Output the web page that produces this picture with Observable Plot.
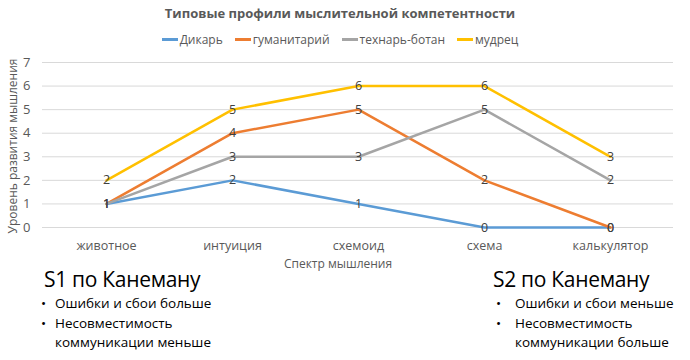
<!DOCTYPE html>
<html>
<head>
<meta charset="utf-8">
<script src="https://cdn.jsdelivr.net/npm/d3@7"></script>
<script src="https://cdn.jsdelivr.net/npm/@observablehq/plot@0.6"></script>
<style>
  body { margin: 0; width: 690px; height: 360px; position: relative; background: #fff; font-family: "Open Sans", sans-serif; overflow: hidden; }
  #title { position: absolute; top: 4px; left: 0; width: 680px; text-align: center; font-weight: bold; font-size: 13px; color: #595959; }
  #legend { position: absolute; top: 31px; left: 0; width: 680px; display: flex; justify-content: center; gap: 12px; font-size: 12px; color: #595959; }
  #legend .item { display: flex; align-items: center; }
  #legend .sw { display: inline-block; width: 16px; height: 2.5px; margin-right: 2px; }
  #chart { position: absolute; top: 50px; left: 0; }
  #xlabel { position: absolute; top: 255px; left: 0; width: 676px; text-align: center; font-size: 12px; color: #595959; }
  #ylabel { position: absolute; left: 12px; top: 146px; transform: translate(-50%, -50%) rotate(-90deg); white-space: nowrap; font-size: 12px; color: #595959; }
  .block { position: absolute; color: #000; }
  .block .head { font-size: 21px; line-height: 26px; white-space: nowrap; letter-spacing: -0.3px; }
  .block ul { margin: 2px 0 0 0; padding: 0; list-style: none; font-size: 13.5px; line-height: 19.5px; }
  .block li { position: relative; padding-left: var(--ind); }
  .block li::before { content: "•"; position: absolute; left: 0; }
  #s1 { left: 44px; top: 266px; --ind: 14px; }
  #s2 { left: 493px; top: 266px; --ind: 19px; }
  #s1 ul { margin-left: -3px; }
  #s2 ul { margin-left: 3px; }
</style>
</head>
<body>
<div id="title">Типовые профили мыслительной компетентности</div>
<div id="legend"></div>
<div id="chart"></div>
<div id="ylabel">Уровень развития мышления</div>
<div id="xlabel">Спектр мышления</div>
<div class="block" id="s1">
  <div class="head">S1 по Канеману</div>
  <ul><li>Ошибки и сбои больше</li><li>Несовместимость<br>коммуникации меньше</li></ul>
</div>
<div class="block" id="s2">
  <div class="head">S2 по Канеману</div>
  <ul><li>Ошибки и сбои меньше</li><li>Несовместимость<br>коммуникации больше</li></ul>
</div>
<script>
const categories = ["животное", "интуиция", "схемоид", "схема", "калькулятор"];
const seriesNames = ["Дикарь", "гуманитарий", "технарь-ботан", "мудрец"];
const dikar = [1, 2, 1, 0, 0];
const gumanitariy = [1, 4, 5, 2, 0];
const tehnar = [1, 3, 3, 5, 2];
const mudrec = [2, 5, 6, 6, 3];
const yTicks = [0, 1, 2, 3, 4, 5, 6, 7];
const colors = ["#5B9BD5", "#ED7D31", "#A5A5A5", "#FFC000"];

const seriesValues = [dikar, gumanitariy, tehnar, mudrec];
const rows = [];
seriesNames.forEach((s, i) => {
  categories.forEach((c, j) => rows.push({series: s, cat: c, v: seriesValues[i][j]}));
});

const legend = document.getElementById("legend");
seriesNames.forEach((s, i) => {
  const it = document.createElement("span");
  it.className = "item";
  it.innerHTML = `<span class="sw" style="background:${colors[i]}"></span>${s}`;
  legend.appendChild(it);
});

const chart = Plot.plot({
  width: 690,
  height: 225,
  marginTop: 12,
  marginBottom: 48,
  marginLeft: 42,
  marginRight: 17,
  style: { fontFamily: "Open Sans, sans-serif", fontSize: "12px", color: "#595959", background: "transparent" },
  x: { type: "point", domain: categories, padding: 0.5, label: null },
  y: { domain: [0, 7], ticks: yTicks, label: null },
  color: { domain: seriesNames, range: colors },
  marks: [
    Plot.gridY(yTicks, { stroke: "#d9d9d9", strokeOpacity: 1, strokeWidth: 1 }),
    Plot.axisY(yTicks, { tickSize: 0, tickPadding: 12, label: null, fontSize: 13 }),
    Plot.axisX({ tickSize: 0, tickPadding: 14, label: null, fontSize: 12.5 }),
    Plot.lineY(rows, { x: "cat", y: "v", z: "series", stroke: "series", strokeWidth: 2.5 }),
    Plot.text(rows, { x: "cat", y: "v", text: "v", fill: "#404040", fontSize: 12.5 })
  ]
});
document.getElementById("chart").appendChild(chart);
</script>
</body>
</html>
